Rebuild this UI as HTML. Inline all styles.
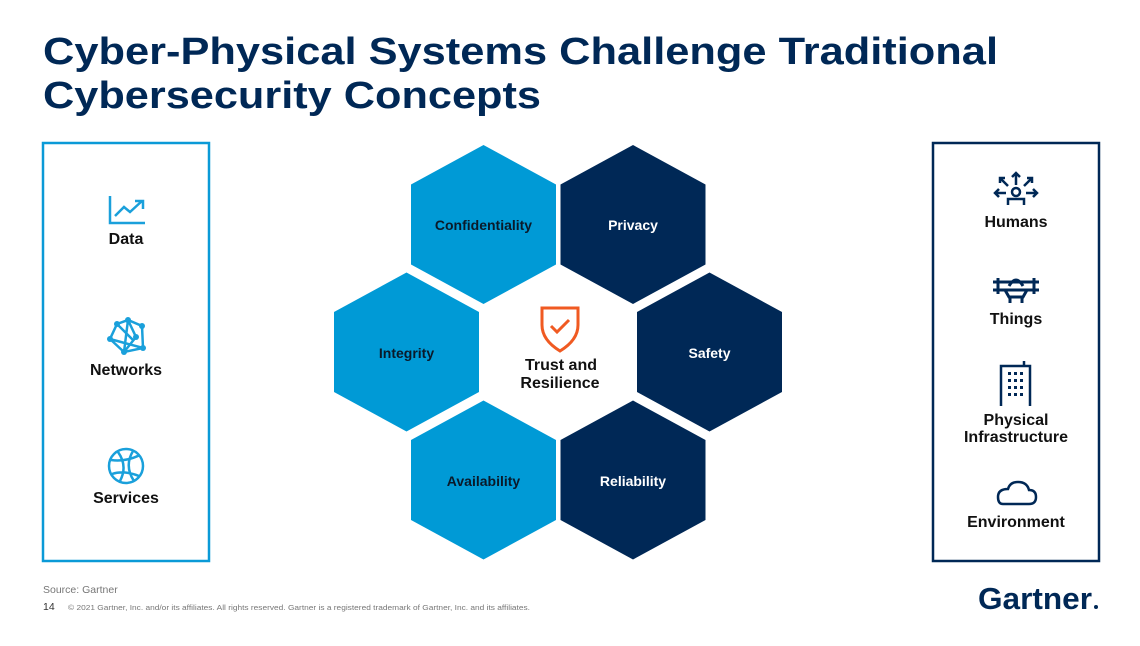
<!DOCTYPE html>
<html><head><meta charset="utf-8"><style>
html,body{margin:0;padding:0;background:#fff;}
svg, svg text{font-family:"Liberation Sans",Arial,Helvetica,sans-serif;}
</style></head><body>
<svg width="1140" height="641" viewBox="0 0 1140 641" xmlns="http://www.w3.org/2000/svg" font-family="Liberation Sans, Arial, Helvetica, sans-serif">
<g fill="#002856" font-weight="bold" font-size="38">
<text x="43" y="64" textLength="955" lengthAdjust="spacingAndGlyphs">Cyber-Physical Systems Challenge Traditional</text>
<text x="43" y="108" textLength="498" lengthAdjust="spacingAndGlyphs">Cybersecurity Concepts</text>
</g>
<rect x="43" y="143" width="166" height="418" fill="none" stroke="#0a9ad7" stroke-width="2.5"/>
<rect x="933" y="143" width="166" height="418" fill="none" stroke="#002856" stroke-width="2.5"/>
<defs><polygon id="hx" points="0,-79.5 72.5,-40 72.5,40 0,79.5 -72.5,40 -72.5,-40"/></defs>
<use href="#hx" x="483.5" y="224.5" fill="#009ad6"/>
<use href="#hx" x="633" y="224.5" fill="#002856"/>
<use href="#hx" x="406.5" y="352" fill="#009ad6"/>
<use href="#hx" x="709.5" y="352" fill="#002856"/>
<use href="#hx" x="483.5" y="480" fill="#009ad6"/>
<use href="#hx" x="633" y="480" fill="#002856"/>
<g font-weight="bold" font-size="14" text-anchor="middle">
<text x="483.5" y="230" fill="#0a1a2a">Confidentiality</text>
<text x="633" y="230" fill="#fff">Privacy</text>
<text x="406.5" y="358" fill="#0a1a2a">Integrity</text>
<text x="709.5" y="358" fill="#fff">Safety</text>
<text x="483.5" y="486" fill="#0a1a2a">Availability</text>
<text x="633" y="486" fill="#fff">Reliability</text>
</g>
<path d="M542,308 L578,308 L578,325 Q578,340 560,351 Q542,340 542,325 Z" fill="none" stroke="#f05a22" stroke-width="3"/>
<path d="M551,326 L557,332 L569,320" fill="none" stroke="#f05a22" stroke-width="3"/>
<g font-weight="bold" font-size="16" fill="#111" text-anchor="middle">
<text x="561" y="370">Trust and</text>
<text x="560" y="388">Resilience</text>
</g>
<g fill="none" stroke="#1aa0db" stroke-width="2.5">
<path d="M110,196 V223 H145"/><path d="M115,216 L124,207 L130,212 L142,201 M135,201 H143 V209"/>
<path d="M117,324 L128,320 L142,326 L143,348 L124,352 L110,339 Z M128,320 L124,352 M128,320 L136,337 L124,352 M117,324 L133,340 M110,339 L143,348"/>
<circle cx="126" cy="466" r="17"/><path d="M111,460 Q126,462 140,455 M112,474 Q124,470 139,476 M118,452 Q128,466 120,481 M133,451 Q124,466 134,481"/>
</g>
<g fill="#1aa0db"><circle cx="128" cy="320" r="3"/><circle cx="117" cy="324" r="3"/><circle cx="142" cy="326" r="3"/><circle cx="136" cy="337" r="3"/><circle cx="110" cy="339" r="3"/><circle cx="143" cy="348" r="3"/><circle cx="124" cy="352" r="3"/></g>
<g font-weight="bold" font-size="16" fill="#111" text-anchor="middle">
<text x="126" y="244">Data</text>
<text x="126" y="375">Networks</text>
<text x="126" y="503">Services</text>
<text x="1016" y="227">Humans</text>
<text x="1016" y="324">Things</text>
<text x="1016" y="425">Physical</text>
<text x="1016" y="442">Infrastructure</text>
<text x="1016" y="527">Environment</text>
</g>
<g fill="none" stroke="#002856" stroke-width="2.5">
<circle cx="1016" cy="192" r="4"/><path d="M1008,205 V199 H1024 V205 M1016,185 V173 M1012,177 L1016,173 L1020,177 M1008,186 L1000,178 M1000,183 V178 H1005 M1024,186 L1032,178 M1032,183 V178 H1027 M1006,193 H995 M999,189 L995,193 L999,197 M1026,193 H1037 M1033,189 L1037,193 L1033,197"/>
<path d="M993,282 H1039 M993,290 H1039 M998,278 V294 M1034,278 V294 M1005,290 L1009,297 H1023 L1027,290 M1009,286 Q1016,274 1023,286 M1010,297 V303 M1022,297 V303" stroke-width="3"/>
<path d="M1001,406 V366 H1030 V406"/><path d="M1024,366 V361"/>
<path d="M1003,504 H1029 Q1036,504 1036,497 Q1036,490 1029,490 Q1027,482 1018,482 Q1010,482 1008,489 Q998,489 998,497 Q998,504 1003,504 Z"/>
</g>
<g fill="#002856"><rect x="1008" y="372" width="3" height="3"/><rect x="1014" y="372" width="3" height="3"/><rect x="1020" y="372" width="3" height="3"/><rect x="1008" y="379" width="3" height="3"/><rect x="1014" y="379" width="3" height="3"/><rect x="1020" y="379" width="3" height="3"/><rect x="1008" y="386" width="3" height="3"/><rect x="1014" y="386" width="3" height="3"/><rect x="1020" y="386" width="3" height="3"/><rect x="1008" y="393" width="3" height="3"/><rect x="1014" y="393" width="3" height="3"/><rect x="1020" y="393" width="3" height="3"/></g>
<text x="43" y="593" font-size="10.5" fill="#777">Source: Gartner</text>
<text x="43" y="610" font-size="10.5" fill="#333">14</text>
<text x="68" y="610" font-size="7.5" fill="#777" textLength="462" lengthAdjust="spacingAndGlyphs">© 2021 Gartner, Inc. and/or its affiliates. All rights reserved. Gartner is a registered trademark of Gartner, Inc. and its affiliates.</text>
<text x="978" y="609" font-size="31" font-weight="bold" fill="#002856" textLength="114" lengthAdjust="spacingAndGlyphs">Gartner</text>
<circle cx="1096" cy="607" r="2" fill="#002856"/>
</svg>
</body></html>
